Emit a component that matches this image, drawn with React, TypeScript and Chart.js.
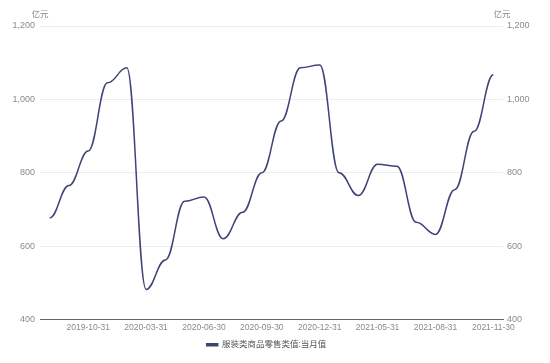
import React, { useEffect, useRef } from "react";
import { Chart, registerables } from "chart.js";

Chart.register(...registerables);

const dates = [
  "2019-08-31", "2019-09-30", "2019-10-31", "2019-11-30", "2019-12-31",
  "2020-03-31", "2020-04-30", "2020-05-31", "2020-06-30", "2020-07-31",
  "2020-08-31", "2020-09-30", "2020-10-31", "2020-11-30", "2020-12-31",
  "2021-03-31", "2021-04-30", "2021-05-31", "2021-06-30", "2021-07-31",
  "2021-08-31", "2021-09-30", "2021-10-31", "2021-11-30",
];

const clothingRetail = [
  677, 765, 859, 1045, 1086,
  482, 562, 722, 734, 620,
  692, 800, 941, 1086, 1094,
  800, 738, 823, 818, 665,
  632, 754, 913, 1067,
];

const seriesName = "服装类商品零售类值:当月值";
const unitLabel = "亿元";
const yMin = 400;
const yMax = 1200;
const yStep = 200;

const FONT = "'Liberation Sans', 'Noto Sans CJK SC', sans-serif";
const LINE_COLOR = "#3e4476";
const TEXT_COLOR = "#8a8a8a";

const flatCurvePlugin = {
  id: "flatCurve",
  beforeDatasetsDraw(chart: any) {
    chart.data.datasets.forEach((_: any, i: number) => {
      const meta = chart.getDatasetMeta(i);
      if (!meta || !meta.dataset) return;
      meta.dataset.updateControlPoints(chart.chartArea, meta.iScale.axis);
      const pts = meta.data;
      const k = 0.42;
      for (let j = 0; j < pts.length; j++) {
        const p = pts[j];
        const prev = pts[j - 1];
        const next = pts[j + 1];
        p.cp1x = prev ? p.x - (p.x - prev.x) * k : p.x;
        p.cp1y = p.y;
        p.cp2x = next ? p.x + (next.x - p.x) * k : p.x;
        p.cp2y = p.y;
      }
    });
  },
};

const legendShiftPlugin = {
  id: "legendShift",
  afterLayout(chart: any) {
    const lg = chart.legend;
    if (lg) {
      lg.left -= 8.5;
      lg.right -= 8.5;
    }
  },
};

const unitPlugin = {
  id: "unitLabels",
  afterDraw(chart: any) {
    const ctx = chart.ctx;
    const area = chart.chartArea;
    ctx.save();
    ctx.font = `8.5px ${FONT}`;
    ctx.fillStyle = TEXT_COLOR;
    ctx.textAlign = "center";
    ctx.textBaseline = "middle";
    ctx.fillText(unitLabel, area.left, 15);
    ctx.fillText(unitLabel, area.right - 1, 15);
    ctx.restore();
  },
};

export default function App() {
  const ref = useRef<HTMLCanvasElement | null>(null);

  useEffect(() => {
    if (!ref.current) return;
    const chart = new Chart(ref.current, {
      type: "line",
      data: {
        labels: dates,
        datasets: [
          {
            label: seriesName,
            data: clothingRetail,
            borderColor: LINE_COLOR,
            backgroundColor: LINE_COLOR,
            borderWidth: 1.5,
            pointRadius: 0,
            tension: 0.4,
            fill: false,
            yAxisID: "y",
          },
          {
            label: "_right",
            data: clothingRetail,
            borderWidth: 0,
            pointRadius: 0,
            showLine: false,
            yAxisID: "y1",
          },
        ],
      },
      options: {
        responsive: false,
        animation: false,
        layout: { padding: { top: 26, left: 0, right: 0, bottom: 4 } },
        plugins: {
          legend: {
            position: "bottom",
            labels: {
              filter: (item: any) => item.text !== "_right",
              boxWidth: 11,
              boxHeight: 2,
              color: "#555555",
              font: { size: 8.5, family: FONT },
              padding: 4,
            },
          },
          tooltip: { enabled: false },
        },
        scales: {
          x: {
            offset: true,
            grid: { display: false, drawTicks: false },
            border: { display: true, color: "#666666", width: 1 },
            ticks: {
              autoSkip: false,
              maxRotation: 0,
              padding: 3,
              color: TEXT_COLOR,
              font: { size: 8.5, family: FONT },
              callback: (_v: any, i: number) => (i % 3 === 2 ? dates[i] : ""),
            },
            afterFit: (s: any) => {
              s.height = 17;
            },
          },
          y: {
            position: "left",
            min: yMin,
            max: yMax,
            ticks: {
              stepSize: yStep,
              padding: 5,
              color: TEXT_COLOR,
              font: { size: 9, family: FONT },
            },
            grid: { color: "#ececec", drawTicks: false },
            border: { display: false },
            afterFit: (s: any) => {
              s.width = 40;
            },
          },
          y1: {
            position: "right",
            min: yMin,
            max: yMax,
            ticks: {
              stepSize: yStep,
              padding: 4,
              color: TEXT_COLOR,
              font: { size: 9, family: FONT },
            },
            grid: { display: false, drawTicks: false },
            border: { display: false },
            afterFit: (s: any) => {
              s.width = 47;
            },
          },
        },
      },
      plugins: [flatCurvePlugin, legendShiftPlugin, unitPlugin],
    });
    return () => chart.destroy();
  }, []);

  return (
    <div style={{ position: "fixed", left: 0, top: 0, width: 550, height: 363, background: "#ffffff" }}>
      <canvas ref={ref} width={550} height={363} style={{ width: 550, height: 363 }} />
    </div>
  );
}
